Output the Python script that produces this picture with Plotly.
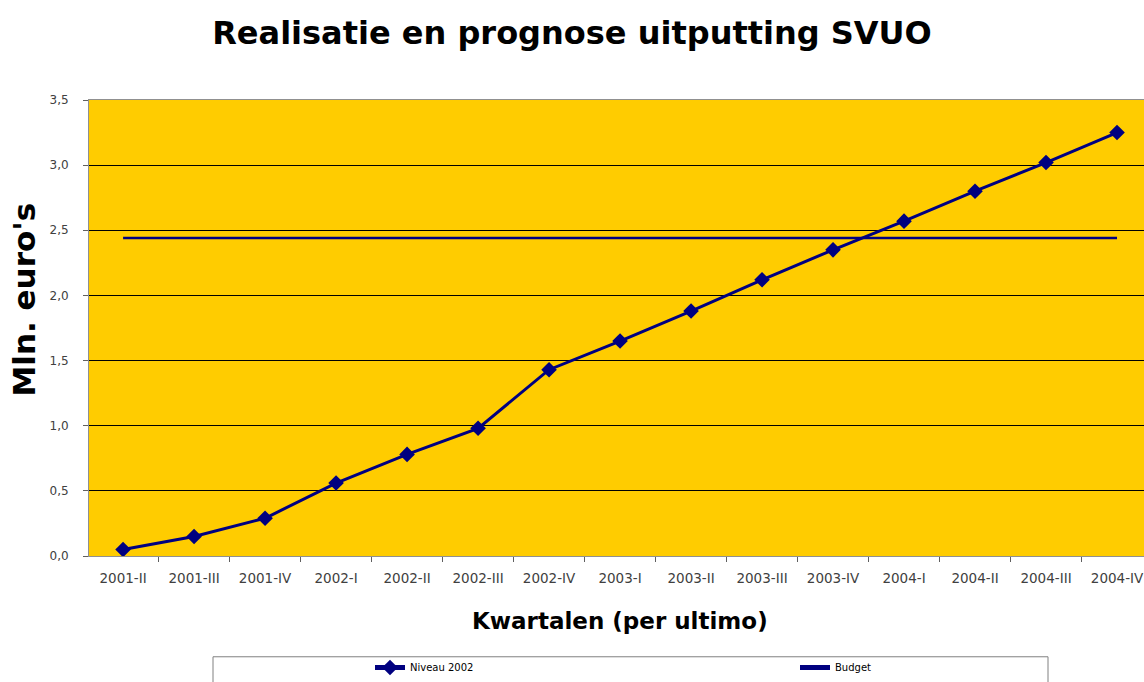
import plotly.graph_objects as go

categories = ["2001-II", "2001-III", "2001-IV", "2002-I", "2002-II", "2002-III", "2002-IV",
              "2003-I", "2003-II", "2003-III", "2003-IV", "2004-I", "2004-II", "2004-III", "2004-IV"]
niveau_2002 = [0.05, 0.15, 0.29, 0.56, 0.78, 0.98, 1.43, 1.65, 1.88, 2.12, 2.35, 2.57, 2.80, 3.02, 3.25]
budget = [2.44] * len(categories)

W, H = 1144, 682
L, R, T, B = 89, 0, 100, 125
pw = W - L - R
ph = H - T - B

def px_x(x):
    return (x - L) / pw

def px_y(y):
    return (H - B - y) / ph

NAVY = "#000080"

fig = go.Figure()
fig.add_trace(go.Scatter(
    x=categories, y=niveau_2002, name="Niveau 2002", mode="lines+markers",
    line=dict(color=NAVY, width=3),
    marker=dict(symbol="diamond", size=12, color=NAVY),
    legend="legend",
))
fig.add_trace(go.Scatter(
    x=categories, y=budget, name="Budget", mode="lines",
    line=dict(color=NAVY, width=2.5),
    legend="legend2",
))

legend_common = dict(
    orientation="h", xanchor="left", yanchor="middle",
    bgcolor="rgba(0,0,0,0)", borderwidth=0,
    itemsizing="constant",
    font=dict(family="DejaVu Sans", size=10, color="black"),
)

fig.update_layout(
    width=W, height=H,
    margin=dict(l=L, r=R, t=T, b=B, pad=0),
    paper_bgcolor="white",
    plot_bgcolor="#FFCC00",
    separators=", ",
    font=dict(family="DejaVu Sans", color="#404040"),
    title=dict(
        text="<b>Realisatie en prognose uitputting SVUO</b>",
        x=0.5, xref="container", xanchor="center",
        y=1 - 33 / H, yref="container", yanchor="middle",
        font=dict(family="DejaVu Sans", size=32, color="black"),
    ),
    showlegend=True,
    legend=dict(legend_common, x=px_x(370), y=px_y(669)),
    legend2=dict(legend_common, x=px_x(795), y=px_y(669)),
)

fig.update_xaxes(
    type="category",
    range=[-0.48, 14.38],
    showgrid=False,
    showline=True, linecolor="#909090", linewidth=1, mirror=True,
    ticks="outside", tickson="boundaries", ticklen=5, tickcolor="#606060",
    tickfont=dict(family="DejaVu Sans", size=13.5, color="#404040"),
    ticklabelstandoff=10,
)
fig.update_yaxes(
    range=[0, 3.5], dtick=0.5, tickformat=".1f",
    showgrid=True, gridcolor="black", gridwidth=1,
    zeroline=False,
    showline=True, linecolor="#909090", linewidth=1, mirror=True,
    ticks="outside", ticklen=5, tickcolor="#606060",
    tickfont=dict(family="DejaVu Sans", size=12, color="#404040"),
    ticklabelstandoff=12,
)

fig.add_annotation(
    text="<b>Kwartalen (per ultimo)</b>", xref="paper", yref="paper",
    x=px_x(620), y=px_y(622), xanchor="center", yanchor="middle", showarrow=False,
    font=dict(family="DejaVu Sans", size=23, color="black"),
)
fig.add_annotation(
    text="<b>Mln. euro's</b>", xref="paper", yref="paper",
    x=px_x(24), y=px_y(300), xanchor="center", yanchor="middle", showarrow=False,
    textangle=-90,
    font=dict(family="DejaVu Sans", size=31, color="black"),
)

fig.add_shape(
    type="rect", xref="paper", yref="paper",
    x0=px_x(213), x1=px_x(1048), y0=px_y(700), y1=px_y(658),
    line=dict(color="#808080", width=1), fillcolor="rgba(0,0,0,0)", layer="above",
)

fig.write_html(
    "out.html",
    config={"displayModeBar": False},
    post_script="document.body.style.margin='0';document.body.style.overflow='hidden';"
                "document.documentElement.style.overflow='hidden';",
)
